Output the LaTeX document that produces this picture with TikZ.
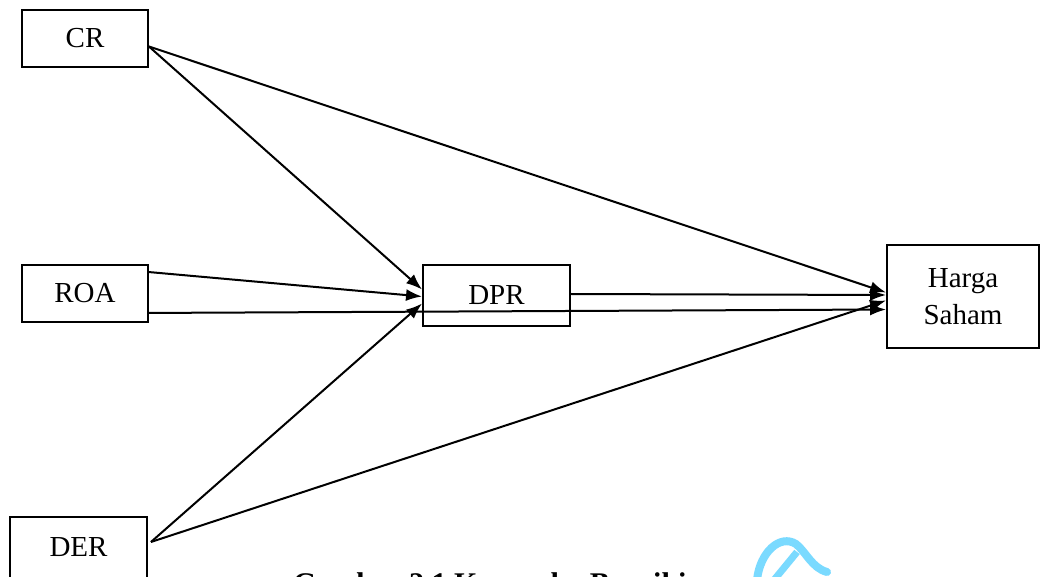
\documentclass[tikz,border=0pt]{standalone}
\usepackage{fontspec}
\setmainfont{Liberation Serif}
\usetikzlibrary{arrows.meta,calc}
\definecolor{markblue}{RGB}{122,218,255}
\tikzset{
  varbox/.style={draw, line width=1.9pt, inner sep=0pt, align=center,
    font=\fontsize{29}{37}\selectfont},
  link/.style={line width=2pt, -{Latex[length=16pt,width=12pt]}},
}
\begin{document}
\begin{tikzpicture}[x=1pt,y=-1pt]
\useasboundingbox[fill=white] (0,0) rectangle (1042,577);

% variables
\node[varbox, minimum width=126pt, minimum height=57pt] (cr)  at (85,38.5)  {CR};
\node[varbox, minimum width=126pt, minimum height=57pt] (roa) at (85,293.5) {ROA};
\node[varbox, minimum width=147pt, minimum height=61pt] (dpr) at (496.5,295.5) {DPR};
\node[varbox, minimum width=152pt, minimum height=103pt] (hs) at (963,296.5) {Harga\\Saham};
\node[varbox, minimum width=137pt, minimum height=64pt, text depth=4pt] (der) at (78.5,549) {DER};

% connector ends on the box sides
\coordinate (crout)  at ($(cr.east)+(0,8)$);
\coordinate (roaup)  at ($(roa.north east)+(0,8)$);
\coordinate (roalow) at ($(roa.south east)+(0,-10)$);
\coordinate (derout) at ($(der.east)+(3,-7)$);
\coordinate (dprin1) at ($(dpr.west)+(0,-6)$);
\coordinate (dprin2) at ($(dpr.west)+(0,1)$);
\coordinate (dprin3) at ($(dpr.west)+(0,8)$);
\coordinate (hsin1)  at ($(hs.west)+(0,-4)$);
\coordinate (hsin2)  at ($(hs.west)+(0,-1.5)$);
\coordinate (hsin3)  at ($(hs.west)+(0,4)$);
\coordinate (hsin4)  at ($(hs.west)+(0,13)$);
\coordinate (dprout) at ($(dpr.east)+(0,-1.5)$);

% paths into DPR
\draw[link] (crout)  -- (dprin1);
\draw[link] (roaup)  -- (dprin2);
\draw[link] (derout) -- (dprin3);

% paths into Harga Saham
\draw[link] (crout)  -- (hsin1);
\draw[link] (dprout) -- (hsin2);
\draw[link] (derout) -- (hsin3);
\draw[link] (roalow) -- (hsin4);

% caption
\node[anchor=north west, inner sep=0pt, font=\bfseries\fontsize{30}{36}\selectfont]
  (cap) at (293,572) {Gambar 2.1 Kerangka Berpikir};

% logo mark
\draw[markblue, line width=8pt, line cap=round]
  (757,580) .. controls (760,552) and (780,534) .. (796,544)
  .. controls (806,552) and (812,568) .. (827,572);
\draw[markblue, line width=7pt] (774,580) -- (797,552);
\end{tikzpicture}
\end{document}
